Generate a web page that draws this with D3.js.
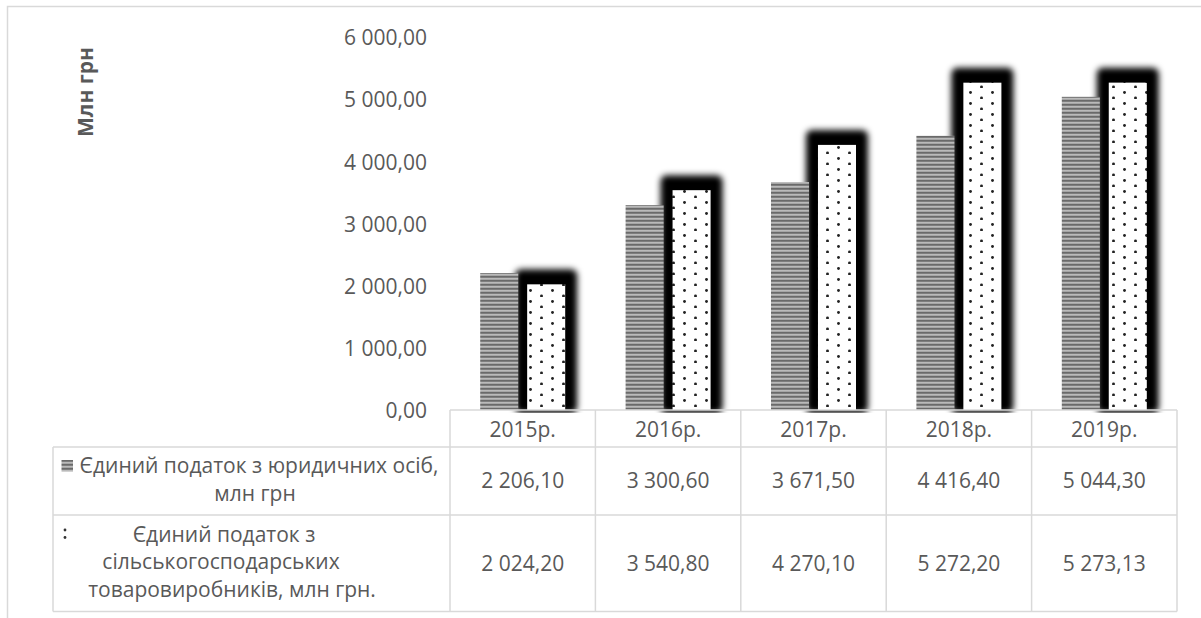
<!DOCTYPE html>
<html>
<head>
<meta charset="utf-8">
<script src="https://cdn.jsdelivr.net/npm/d3@7"></script>
<style>
  html, body { margin: 0; padding: 0; background: #fff; }
  svg { display: block; }
  text { font-family: "Open Sans", "Noto Sans", sans-serif; fill: #595959; }
</style>
</head>
<body>
<svg id="chart" width="1201" height="618"></svg>
<script>
// Years (columns of the data table / categories of the bar chart)
const years = ["2015р.", "2016р.", "2017р.", "2018р.", "2019р."];

// Single tax from legal entities, mln UAH
const legalEntities = [2206.10, 3300.60, 3671.50, 4416.40, 5044.30];

// Single tax from agricultural producers, mln UAH
const agriProducers = [2024.20, 3540.80, 4270.10, 5272.20, 5273.13];

// Row labels of the data table, already split into lines
const legalLabel = ["Єдиний податок з юридичних осіб,", "млн грн"];
const agriLabel = ["Єдиний податок з", "сільськогосподарських", "товаровиробників, млн грн."];

// Value axis
const yTicks = [0, 1000, 2000, 3000, 4000, 5000, 6000];
const yTitle = "Млн грн";

const locale = d3.formatLocale({ decimal: ",", thousands: " ", grouping: [3], currency: ["", ""] });
const fmt = locale.format(",.2f");

const svg = d3.select("#chart");
const FS = 21;
const gridColor = "#d9d9d9";

// ---- definitions: fills and glow ----
const defs = svg.append("defs");

const stripe = defs.append("pattern")
  .attr("id", "stripes").attr("patternUnits", "userSpaceOnUse")
  .attr("width", 8).attr("height", 4);
stripe.append("rect").attr("width", 8).attr("height", 4).attr("fill", "#929292");
stripe.append("rect").attr("y", 0).attr("width", 8).attr("height", 1.5).attr("fill", "#6a6a6a");
stripe.append("rect").attr("y", 2.2).attr("width", 8).attr("height", 1.2).attr("fill", "#c4c4c4");

const dots = defs.append("pattern")
  .attr("id", "dots").attr("patternUnits", "userSpaceOnUse")
  .attr("width", 22).attr("height", 11);
dots.append("rect").attr("width", 22).attr("height", 11).attr("fill", "#fff");
dots.append("circle").attr("cx", 2.5).attr("cy", 4.5).attr("r", 1.45).attr("fill", "#222");
dots.append("circle").attr("cx", 13.5).attr("cy", 10).attr("r", 1.45).attr("fill", "#222");

const glow = defs.append("filter").attr("id", "glow")
  .attr("x", "-60%").attr("y", "-30%").attr("width", "220%").attr("height", "160%");
glow.append("feGaussianBlur").attr("stdDeviation", 3.2);

defs.append("clipPath").attr("id", "plotClip")
  .append("rect").attr("x", 0).attr("y", 0).attr("width", 1201).attr("height", 413);

// ---- outer chart frame ----
svg.append("path")
  .attr("d", "M7.5,640 V6.5 H1220")
  .attr("fill", "none").attr("stroke", gridColor).attr("stroke-width", 1.5);

// ---- scales ----
const plotLeft = 450, plotRight = 1177;
const y0 = 410, yTop = 37.5;
const x = d3.scaleBand().domain(years).range([plotLeft, plotRight]).padding(0);
const y = d3.scaleLinear().domain([0, 6000]).range([y0, yTop]);
const bw = x.bandwidth();
const inner = d3.scaleBand().domain([0, 1]).range([bw / 2 - 42.5, bw / 2 + 42.5]).paddingInner(0.19);

// ---- value axis (labels only) ----
const yAxis = d3.axisLeft(y).tickValues(yTicks).tickFormat(fmt).tickSize(0).tickPadding(0);
const gy = svg.append("g").attr("transform", "translate(427,0)").call(yAxis);
gy.select(".domain").remove();
gy.selectAll("text")
  .attr("font-size", FS).attr("font-family", "'Open Sans', sans-serif")
  .attr("fill", "#595959").attr("dy", "0.35em");

svg.append("text")
  .attr("transform", "translate(93,92) rotate(-90)")
  .attr("text-anchor", "middle")
  .attr("font-size", FS).attr("font-weight", "bold")
  .text(yTitle);

// ---- bars ----
const bars = svg.append("g").attr("clip-path", "url(#plotClip)");

// dark glow behind the dotted bars
bars.selectAll("rect.glow").data(agriProducers).join("rect")
  .attr("class", "glow")
  .attr("x", (d, i) => x(years[i]) + inner(1) - 12)
  .attr("width", inner.bandwidth() + 24)
  .attr("y", d => y(d) - 15)
  .attr("height", d => y0 - y(d) + 18)
  .attr("rx", 6)
  .attr("fill", "#000")
  .attr("filter", "url(#glow)");

// striped bars
bars.selectAll("rect.legal").data(legalEntities).join("rect")
  .attr("class", "legal")
  .attr("x", (d, i) => x(years[i]) + inner(0))
  .attr("width", inner.bandwidth())
  .attr("y", d => y(d))
  .attr("height", d => y0 - y(d))
  .attr("fill", "url(#stripes)");

// dotted bars
bars.selectAll("rect.agri").data(agriProducers).join("rect")
  .attr("class", "agri")
  .attr("x", (d, i) => x(years[i]) + inner(1))
  .attr("width", inner.bandwidth())
  .attr("y", d => y(d))
  .attr("height", d => y0 - y(d))
  .attr("fill", "url(#dots)");

// ---- data table ----
const labelLeft = 53;
const rowTops = [y0, 447, 515, 611.5];
const table = svg.append("g");

const hLines = [
  { y: rowTops[0], x1: plotLeft, x2: plotRight },
  { y: rowTops[1], x1: labelLeft, x2: plotRight },
  { y: rowTops[2], x1: labelLeft, x2: plotRight },
  { y: rowTops[3], x1: labelLeft, x2: plotRight }
];
table.selectAll("line.h").data(hLines).join("line")
  .attr("x1", d => d.x1).attr("x2", d => d.x2).attr("y1", d => d.y).attr("y2", d => d.y)
  .attr("stroke", gridColor).attr("stroke-width", 1.5);

const colEdges = years.map(v => x(v)).concat([plotRight]);
table.selectAll("line.v").data(colEdges).join("line")
  .attr("x1", d => d).attr("x2", d => d).attr("y1", rowTops[0]).attr("y2", rowTops[3])
  .attr("stroke", gridColor).attr("stroke-width", 1.5);
table.append("line")
  .attr("x1", labelLeft).attr("x2", labelLeft).attr("y1", rowTops[1]).attr("y2", rowTops[3])
  .attr("stroke", gridColor).attr("stroke-width", 1.5);

// column headers
table.selectAll("text.year").data(years).join("text")
  .attr("x", d => x(d) + bw / 2).attr("y", 436.5)
  .attr("text-anchor", "middle").attr("font-size", FS)
  .text(d => d);

// values
table.selectAll("text.v1").data(legalEntities).join("text")
  .attr("x", (d, i) => x(years[i]) + bw / 2).attr("y", 488)
  .attr("text-anchor", "middle").attr("font-size", FS)
  .text(d => fmt(d));
table.selectAll("text.v2").data(agriProducers).join("text")
  .attr("x", (d, i) => x(years[i]) + bw / 2).attr("y", 570.5)
  .attr("text-anchor", "middle").attr("font-size", FS)
  .text(d => fmt(d));

// row labels with legend keys
table.append("rect").attr("x", 61.5).attr("y", 460).attr("width", 11.5).attr("height", 11.5)
  .attr("fill", "url(#stripes)");
const l1x = [259, 255];
table.selectAll("text.l1").data(legalLabel).join("text")
  .attr("x", (d, i) => l1x[i]).attr("y", (d, i) => 473 + i * 27.5)
  .attr("text-anchor", "middle").attr("font-size", FS)
  .text(d => d);

const key2 = table.append("g");
key2.append("circle").attr("cx", 65).attr("cy", 530).attr("r", 1.4).attr("fill", "#333");
key2.append("circle").attr("cx", 65).attr("cy", 537.5).attr("r", 1.4).attr("fill", "#333");
const l2x = [224, 221, 232];
table.selectAll("text.l2").data(agriLabel).join("text")
  .attr("x", (d, i) => l2x[i]).attr("y", (d, i) => 541.7 + i * 27.5)
  .attr("text-anchor", "middle").attr("font-size", FS)
  .text(d => d);
</script>
</body>
</html>
